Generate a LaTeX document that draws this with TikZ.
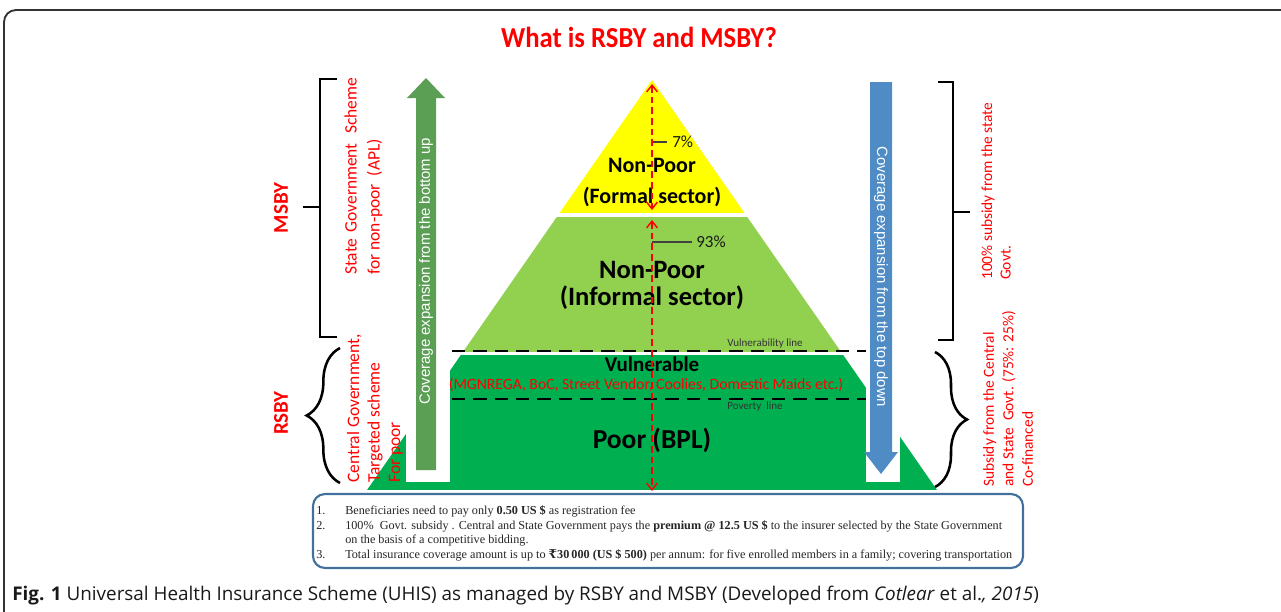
\documentclass[tikz,border=0pt]{standalone}
\usepackage{fontspec}
\setmainfont{Carlito}
\newfontfamily\boxfont{Liberation Serif}
\newfontfamily\arrfont{Liberation Sans}
\newfontfamily\capfont{Open Sans}
\newfontfamily\rupfont{DejaVu Serif}
\usetikzlibrary{arrows.meta,decorations.pathreplacing}
\definecolor{ygold}{HTML}{FFFF00}
\definecolor{lgreen}{HTML}{92D050}
\definecolor{dgreen}{HTML}{00B050}
\definecolor{agreen}{HTML}{5B9F55}
\definecolor{ablue}{HTML}{4F8CC6}
\definecolor{boxblue}{HTML}{41719C}
\definecolor{framecol}{HTML}{333333}
\definecolor{redtxt}{HTML}{FF0000}
\definecolor{pctline}{HTML}{404040}
\tikzset{
  redlab/.style={text=redtxt, inner sep=0pt, align=left},
  bkt/.style={line width=1.9pt, black},
  cutline/.style={line width=2.2pt, black, dash pattern=on 10pt off 6pt},
  reddash/.style={line width=1.1pt, redtxt, dash pattern=on 5pt off 3pt,
     arrows={Straight Barb[length=5pt,width=8pt]-Straight Barb[length=5pt,width=8pt]}},
  boxtxt/.style={anchor=base west, inner sep=0pt, font=\boxfont\fontsize{9.15pt}{11pt}\selectfont, text=black!85},
  arrtxt/.style={text=white, inner sep=0pt, font=\arrfont\fontsize{11.2pt}{12pt}\selectfont},
  smalllab/.style={inner sep=0pt, text=black!80, font=\fontsize{8.25pt}{9pt}\selectfont},
  pct/.style={anchor=west, inner sep=0pt, text=black!90, font=\fontsize{12.75pt}{14pt}\selectfont}
}
\begin{document}
\begin{tikzpicture}[x=0.75pt,y=-0.75pt]
\useasboundingbox (0,0) rectangle (1281,611);
% frame
\draw[framecol, line width=1.4pt, rounded corners=9pt] (4,640) -- (4,10) -- (1300,10);
% title
\node[text=redtxt, font=\bfseries\fontsize{21.75pt}{24pt}\selectfont] (title) at (639,37) {\scalebox{0.92}[1]{What is RSBY and MSBY?}};
% pyramid
\begin{scope}
\clip (652,80) -- (367,490) -- (937,490) -- cycle;
\fill[ygold] (300,70) rectangle (1000,213);
\fill[lgreen] (300,217) rectangle (1000,352);
\fill[dgreen] (300,355) rectangle (1000,490);
\end{scope}
\fill[white] (406,300) rectangle (450,482);
\fill[white] (866,300) rectangle (900,482);
% green arrow
\fill[agreen] (416,470) -- (416,98) -- (407,98) -- (426,78) -- (445,98) -- (436,98) -- (436,470) -- cycle;
\node[arrtxt, rotate=90] (uptxt) at (426,271) {Coverage expansion from the bottom up};
% blue arrow
\fill[ablue] (870,82) -- (892,82) -- (892,452) -- (898,452) -- (881,474) -- (864,452) -- (870,452) -- cycle;
\node[arrtxt, rotate=-90] (dntxt) at (881,277) {Coverage expansion from the top down};
% dashed lines
\coordinate (vl1) at (452,351); \coordinate (vl2) at (866,351);
\draw[cutline] (vl1) -- (vl2);
\coordinate (pl1) at (452,399); \coordinate (pl2) at (866,399);
\draw[cutline] (pl1) -- (pl2);
\node[smalllab] (vline) at (765,344) {Vulnerability line};
\node[smalllab] (pline) at (755,407) {Poverty\ \ line};
% pyramid texts
\node[font=\bfseries\fontsize{16.5pt}{18pt}\selectfont] (np1) at (652,165) {Non-Poor};
\node[font=\bfseries\fontsize{16.5pt}{18pt}\selectfont] (fs) at (652,197) {(Formal sector)};
\node[font=\bfseries\fontsize{19.9pt}{22pt}\selectfont] (np2) at (652,270) {Non-Poor};
\node[font=\bfseries\fontsize{19.9pt}{22pt}\selectfont] (is) at (652,298) {(Informal sector)};
\node[font=\bfseries\fontsize{15.75pt}{17pt}\selectfont] (vul) at (652,364) {Vulnerable};
\node[text=redtxt, font=\fontsize{11.75pt}{13pt}\selectfont] (mg) at (646,385) {(MGNREGA, BoC, Street Vendor, Coolies, Domestic Maids etc.)};
\node[font=\bfseries\fontsize{20.6pt}{22pt}\selectfont] (poor) at (652,440) {Poor (BPL)};
% percentages
\coordinate (p7a) at (652,142);
\node[pct] (p7) at (672,142) {7\%};
\draw[pctline, line width=1.1pt] (p7a) -- ++(15,0);
\coordinate (p93a) at (652,242);
\node[pct] (p93) at (696,242) {93\%};
\draw[pctline, line width=1.1pt] (p93a) -- ++(40,0);
% red dashed arrows
\coordinate (a1) at (652,84); \coordinate (a2) at (652,210);
\draw[reddash] (a1) -- (a2);
\coordinate (b1) at (652,220); \coordinate (b2) at (652,491);
\draw[reddash] (b1) -- (b2);
% left brackets
\draw[bkt] (337,79) -- (320,79) -- (320,337) -- (337,337);
\draw[bkt] (303,207) -- (320,207);
\draw[bkt, decorate, decoration={brace, amplitude=25pt}] (340,483) -- (340,348);
\node[rotate=90, text=redtxt, font=\bfseries\fontsize{15.75pt}{17pt}\selectfont] (msby) at (281,208) {MSBY};
\node[rotate=90, text=redtxt, font=\bfseries\fontsize{15.75pt}{17pt}\selectfont] (rsby) at (281,413) {RSBY};
\node[redlab, rotate=90, anchor=west, font=\fontsize{13.1pt}{17.25pt}\selectfont] (stg) at (363.5,275) {State\hspace{4.5pt}Government\hspace{7pt}Scheme\\for non-poor\ \ (APL)};
\node[redlab, rotate=90, anchor=west, font=\fontsize{13.1pt}{15.4pt}\selectfont] (cg) at (375,483) {Central Government,\\Targeted scheme\\For poor};
% right brackets
\draw[bkt] (938,82) -- (953,82) -- (953,340) -- (938,340);
\draw[bkt] (953,212) -- (970,212);
\draw[bkt, decorate, decoration={brace, amplitude=24pt}] (935,352) -- (935,487);
\node[redlab, rotate=90, anchor=west, font=\fontsize{11.55pt}{13.9pt}\selectfont] (sub1) at (996,280) {100\% subsidy from the state\\Govt.};
\node[redlab, rotate=90, anchor=west, font=\fontsize{11.55pt}{14.6pt}\selectfont] (sub2) at (1008,487) {Subsidy from the Central\\and State\ \ Govt. (75\%: 25\%)\\Co-financed};
% bottom box
\draw[boxblue, line width=1.6pt, rounded corners=9pt, fill=white] (313,494) rectangle (1023,568);
\node[boxtxt] (n1) at (316,514.5) {1.};
\node[boxtxt] (t1) at (345,514.5) {Beneficiaries need to pay only \textbf{0.50 US \$} as registration fee};
\node[boxtxt] (n2) at (316,529) {2.};
\node[boxtxt] (t2) at (345,529) {100\%\ \ Govt. subsidy . Central and State Government pays the \textbf{premium @ 12.5 US \$} to the insurer selected by the State Government};
\node[boxtxt] (t2b) at (345,543) {on the basis of a competitive bidding.};
\node[boxtxt] (n3) at (316,558) {3.};
\node[boxtxt] (t3) at (345,558) {Total insurance coverage amount is up to \textbf{{\rupfont\bfseries ₹}30\,000 (US \$ 500)} per annum: for five enrolled members in a family; covering transportation};
% caption
\node[anchor=base west, inner sep=0pt, font=\capfont\fontsize{14.15pt}{16pt}\selectfont, text=black!90] (cap) at (12,600) {\textbf{Fig. 1} Universal Health Insurance Scheme (UHIS) as managed by RSBY and MSBY (Developed from \textit{Cotlear} et al.\textit{, 2015})};
\end{tikzpicture}
\end{document}
